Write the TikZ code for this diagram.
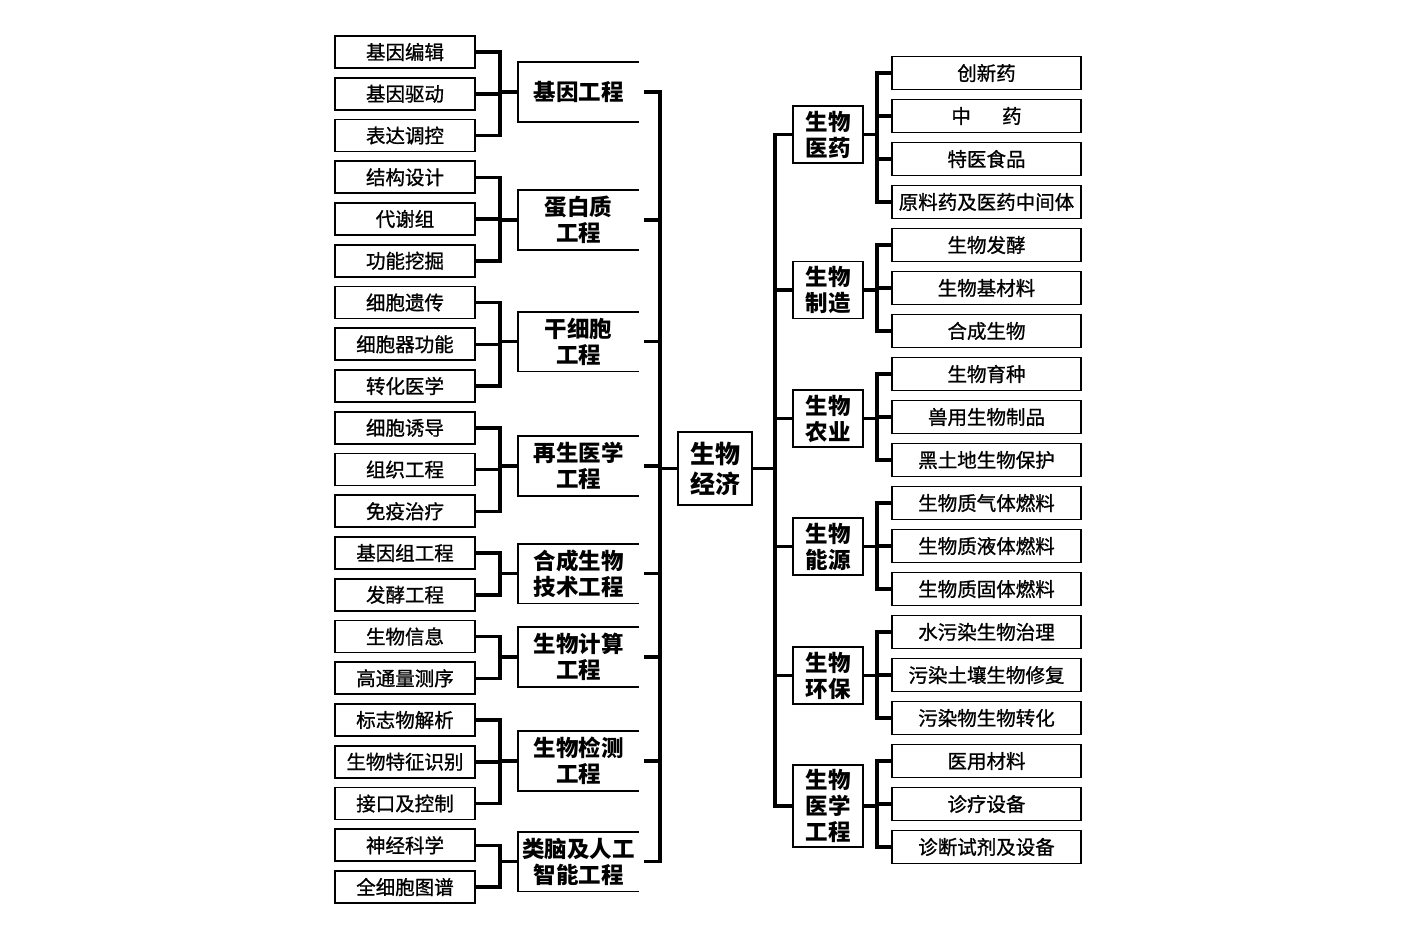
\documentclass[tikz,border=0pt]{standalone}
\usepackage{fontspec}
\setmainfont{Noto Sans CJK SC}
\newfontfamily\leaffont[FakeBold=1]{Noto Sans CJK SC}
\usepackage{tikz}
\tikzset{%
  % Specifications for style of nodes:
        base/.style = {rectangle, draw=black, line width=1.6pt, inner sep=0pt,
                       text centered, align=center},
    leafLeft/.style = {base, minimum width=140pt, minimum height=32pt,
                       font=\leaffont\fontsize{19.5}{21}\selectfont},
   leafRight/.style = {base, minimum width=189pt, minimum height=33pt,
                       font=\leaffont\fontsize{19.5}{21}\selectfont},
      branch/.style = {base, draw=none, minimum width=119pt, minimum height=58pt,
                       font=\bfseries\fontsize{22.5}{26}\selectfont},
       field/.style = {base, minimum width=70pt, minimum height=57pt,
                       font=\bfseries\fontsize{22.5}{26}\selectfont},
        root/.style = {base, minimum width=74pt, minimum height=73pt,
                       font=\bfseries\fontsize{25}{30}\selectfont},
  % Specifications for style of lines:
     bracket/.style = {line width=3.5pt},
    openside/.style = {line width=1.6pt},
}
\begin{document}
\begin{tikzpicture}[x=1pt, y=-1pt]
  \useasboundingbox (0,0) rectangle (1417,930);
  % Specification of nodes (position, etc.)
  \node (BioEconomy)  [root]            at (715,468.5) {生物\\经济};
  % left side: engineering branches
  \node (GeneEng)     [branch]          at (578.5,92)    {基因工程};
  \node (ProteinEng)  [branch]          at (578.5,220)   {蛋白质\\工程};
  \node (StemCell)    [branch]          at (578.5,341.5) {干细胞\\工程};
  \node (RegenMed)    [branch]          at (578.5,466)   {再生医学\\工程};
  \node (SynBio)      [branch]          at (578.5,573.5) {合成生物\\技术工程};
  \node (BioComp)     [branch]          at (578.5,657)   {生物计算\\工程};
  \node (BioDetect)   [branch]          at (578.5,761)   {生物检测\\工程};
  \node (BrainAI)     [branch]          at (578.5,861.5) {类脑及人工\\智能工程};
  % left side: leaves
  \node (GeneEng1)    [leafLeft]        at (405,52)      {基因编辑};
  \node (GeneEng2)    [leafLeft]        at (405,93.75)   {基因驱动};
  \node (GeneEng3)    [leafLeft]        at (405,135.5)   {表达调控};
  \node (ProteinEng1) [leafLeft]        at (405,177.25)  {结构设计};
  \node (ProteinEng2) [leafLeft]        at (405,219)     {代谢组};
  \node (ProteinEng3) [leafLeft]        at (405,260.75)  {功能挖掘};
  \node (StemCell1)   [leafLeft]        at (405,302.5)   {细胞遗传};
  \node (StemCell2)   [leafLeft]        at (405,344.25)  {细胞器功能};
  \node (StemCell3)   [leafLeft]        at (405,386)     {转化医学};
  \node (RegenMed1)   [leafLeft]        at (405,427.75)  {细胞诱导};
  \node (RegenMed2)   [leafLeft]        at (405,469.5)   {组织工程};
  \node (RegenMed3)   [leafLeft]        at (405,511.25)  {免疫治疗};
  \node (SynBio1)     [leafLeft]        at (405,553)     {基因组工程};
  \node (SynBio2)     [leafLeft]        at (405,594.75)  {发酵工程};
  \node (BioComp1)    [leafLeft]        at (405,636.5)   {生物信息};
  \node (BioComp2)    [leafLeft]        at (405,678.25)  {高通量测序};
  \node (BioDetect1)  [leafLeft]        at (405,720)     {标志物解析};
  \node (BioDetect2)  [leafLeft]        at (405,761.75)  {生物特征识别};
  \node (BioDetect3)  [leafLeft]        at (405,803.5)   {接口及控制};
  \node (BrainAI1)    [leafLeft]        at (405,845.25)  {神经科学};
  \node (BrainAI2)    [leafLeft]        at (405,887)     {全细胞图谱};
  % right side: industry fields
  \node (BioPharma)   [field]           at (828,134.5)   {生物\\医药};
  \node (BioManu)     [field]           at (828,290)     {生物\\制造};
  \node (BioAgri)     [field]           at (828,418.5)   {生物\\农业};
  \node (BioEnergy)   [field]           at (828,546.5)   {生物\\能源};
  \node (BioEnv)      [field]           at (828,675.5)   {生物\\环保};
  \node (BioMedEng)   [field, minimum height=82pt] at (828,806) {生物\\医学\\工程};
  % right side: leaves
  \node (BioPharma1)  [leafRight]       at (986.5,73)    {创新药};
  \node (BioPharma2)  [leafRight]       at (986.5,116)   {中\hspace{1.6em}药};
  \node (BioPharma3)  [leafRight]       at (986.5,159)   {特医食品};
  \node (BioPharma4)  [leafRight]       at (986.5,202)   {原料药及医药中间体};
  \node (BioManu1)    [leafRight]       at (986.5,245)   {生物发酵};
  \node (BioManu2)    [leafRight]       at (986.5,288)   {生物基材料};
  \node (BioManu3)    [leafRight]       at (986.5,331)   {合成生物};
  \node (BioAgri1)    [leafRight]       at (986.5,374)   {生物育种};
  \node (BioAgri2)    [leafRight]       at (986.5,417)   {兽用生物制品};
  \node (BioAgri3)    [leafRight]       at (986.5,460)   {黑土地生物保护};
  \node (BioEnergy1)  [leafRight]       at (986.5,503)   {生物质气体燃料};
  \node (BioEnergy2)  [leafRight]       at (986.5,546)   {生物质液体燃料};
  \node (BioEnergy3)  [leafRight]       at (986.5,589)   {生物质固体燃料};
  \node (BioEnv1)     [leafRight]       at (986.5,632)   {水污染生物治理};
  \node (BioEnv2)     [leafRight]       at (986.5,675)   {污染土壤生物修复};
  \node (BioEnv3)     [leafRight]       at (986.5,718)   {污染物生物转化};
  \node (BioMedEng1)  [leafRight]       at (986.5,761)   {医用材料};
  \node (BioMedEng2)  [leafRight]       at (986.5,804)   {诊疗设备};
  \node (BioMedEng3)  [leafRight]       at (986.5,847)   {诊断试剂及设备};
  % x positions of the vertical bars
  \coordinate (LeftBracket)  at (500,0);
  \coordinate (LeftTrunk)    at (660,0);
  \coordinate (RightTrunk)   at (775,0);
  \coordinate (RightBracket) at (877,0);
  % branch boxes are open on the right
  \foreach \b in {GeneEng,ProteinEng,StemCell,RegenMed,SynBio,BioComp,BioDetect,BrainAI}
    \draw[openside] (\b.north east) -| (\b.south west) -- (\b.south east);
  % Specification of lines between nodes specified above
  \draw[bracket] (GeneEng1.east) -| (GeneEng.west -| LeftBracket) |- (GeneEng3.east)
                 (GeneEng2.east) -- (GeneEng2.east -| LeftBracket)
                 (GeneEng.west -| LeftBracket) -- (GeneEng.west);
  \draw[bracket] (ProteinEng1.east) -| (ProteinEng.west -| LeftBracket) |- (ProteinEng3.east)
                 (ProteinEng2.east) -- (ProteinEng2.east -| LeftBracket)
                 (ProteinEng.west -| LeftBracket) -- (ProteinEng.west);
  \draw[bracket] (StemCell1.east) -| (StemCell.west -| LeftBracket) |- (StemCell3.east)
                 (StemCell2.east) -- (StemCell2.east -| LeftBracket)
                 (StemCell.west -| LeftBracket) -- (StemCell.west);
  \draw[bracket] (RegenMed1.east) -| (RegenMed.west -| LeftBracket) |- (RegenMed3.east)
                 (RegenMed2.east) -- (RegenMed2.east -| LeftBracket)
                 (RegenMed.west -| LeftBracket) -- (RegenMed.west);
  \draw[bracket] (SynBio1.east) -| (SynBio.west -| LeftBracket) |- (SynBio2.east)
                 (SynBio.west -| LeftBracket) -- (SynBio.west);
  \draw[bracket] (BioComp1.east) -| (BioComp.west -| LeftBracket) |- (BioComp2.east)
                 (BioComp.west -| LeftBracket) -- (BioComp.west);
  \draw[bracket] (BioDetect1.east) -| (BioDetect.west -| LeftBracket) |- (BioDetect3.east)
                 (BioDetect2.east) -- (BioDetect2.east -| LeftBracket)
                 (BioDetect.west -| LeftBracket) -- (BioDetect.west);
  \draw[bracket] (BrainAI1.east) -| (BrainAI.west -| LeftBracket) |- (BrainAI2.east)
                 (BrainAI.west -| LeftBracket) -- (BrainAI.west);
  % left trunk
  \draw[bracket] ([xshift=5pt]GeneEng.east) -| (BioEconomy.west -| LeftTrunk) |- ([xshift=5pt]BrainAI.east);
  \foreach \b in {ProteinEng,StemCell,RegenMed,SynBio,BioComp,BioDetect}
    \draw[bracket] ([xshift=5pt]\b.east) -- (\b.east -| LeftTrunk);
  \draw[bracket] (BioEconomy.west) -- (BioEconomy.west -| LeftTrunk);
  % right trunk
  \draw[bracket] (BioPharma.west) -| (BioEconomy.east -| RightTrunk) |- (BioMedEng.west);
  \foreach \f in {BioManu,BioAgri,BioEnergy,BioEnv}
    \draw[bracket] (\f.west) -- (\f.west -| RightTrunk);
  \draw[bracket] (BioEconomy.east) -- (BioEconomy.east -| RightTrunk);
  % right brackets
  \draw[bracket] (BioPharma1.west) -| (BioPharma.east -| RightBracket) |- (BioPharma4.west)
                 (BioPharma2.west) -- (BioPharma2.west -| RightBracket)
                 (BioPharma3.west) -- (BioPharma3.west -| RightBracket)
                 (BioPharma.east -| RightBracket) -- (BioPharma.east);
  \draw[bracket] (BioManu1.west) -| (BioManu.east -| RightBracket) |- (BioManu3.west)
                 (BioManu2.west) -- (BioManu2.west -| RightBracket)
                 (BioManu.east -| RightBracket) -- (BioManu.east);
  \draw[bracket] (BioAgri1.west) -| (BioAgri.east -| RightBracket) |- (BioAgri3.west)
                 (BioAgri2.west) -- (BioAgri2.west -| RightBracket)
                 (BioAgri.east -| RightBracket) -- (BioAgri.east);
  \draw[bracket] (BioEnergy1.west) -| (BioEnergy.east -| RightBracket) |- (BioEnergy3.west)
                 (BioEnergy2.west) -- (BioEnergy2.west -| RightBracket)
                 (BioEnergy.east -| RightBracket) -- (BioEnergy.east);
  \draw[bracket] (BioEnv1.west) -| (BioEnv.east -| RightBracket) |- (BioEnv3.west)
                 (BioEnv2.west) -- (BioEnv2.west -| RightBracket)
                 (BioEnv.east -| RightBracket) -- (BioEnv.east);
  \draw[bracket] (BioMedEng1.west) -| (BioMedEng.east -| RightBracket) |- (BioMedEng3.west)
                 (BioMedEng2.west) -- (BioMedEng2.west -| RightBracket)
                 (BioMedEng.east -| RightBracket) -- (BioMedEng.east);
\end{tikzpicture}
\end{document}
